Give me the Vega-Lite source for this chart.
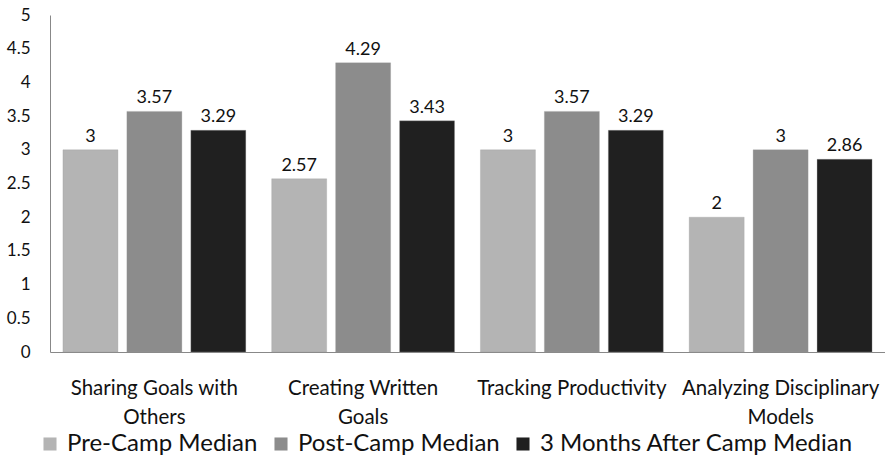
{
  "$schema": "https://vega.github.io/schema/vega-lite/v6.json",
  "autosize": {"type": "none"},
  "width": 835,
  "height": 337,
  "padding": {"left": 50, "top": 15, "right": 0, "bottom": 111},
  "background": "white",
  "config": {
    "view": {"stroke": null},
    "font": "Lato",
    "text": {"font": "Lato"}
  },
  "data": {
    "values": [
      {"category": "Sharing Goals with Others", "series": "Pre-Camp Median", "value": 3},
      {"category": "Sharing Goals with Others", "series": "Post-Camp Median", "value": 3.57},
      {"category": "Sharing Goals with Others", "series": "3 Months After Camp Median", "value": 3.29},
      {"category": "Creating Written Goals", "series": "Pre-Camp Median", "value": 2.57},
      {"category": "Creating Written Goals", "series": "Post-Camp Median", "value": 4.29},
      {"category": "Creating Written Goals", "series": "3 Months After Camp Median", "value": 3.43},
      {"category": "Tracking Productivity", "series": "Pre-Camp Median", "value": 3},
      {"category": "Tracking Productivity", "series": "Post-Camp Median", "value": 3.57},
      {"category": "Tracking Productivity", "series": "3 Months After Camp Median", "value": 3.29},
      {"category": "Analyzing Disciplinary Models", "series": "Pre-Camp Median", "value": 2},
      {"category": "Analyzing Disciplinary Models", "series": "Post-Camp Median", "value": 3},
      {"category": "Analyzing Disciplinary Models", "series": "3 Months After Camp Median", "value": 2.86}
    ]
  },
  "encoding": {
    "x": {
      "field": "category",
      "type": "nominal",
      "sort": null,
      "title": null,
      "scale": {"paddingInner": 0.124, "paddingOuter": 0.062},
      "axis": {
        "labelAngle": 0,
        "labelFontSize": 20.5,
        "labelColor": "#111111",
        "labelFont": "Lato",
        "labelPadding": 26,
        "labelLineHeight": 29,
        "labelLimit": 0,
        "ticks": false,
        "domainColor": "#888888",
        "domainWidth": 1,
        "labelExpr": "datum.label == 'Sharing Goals with Others' ? ['Sharing Goals with', 'Others'] : datum.label == 'Creating Written Goals' ? ['Creating Written', 'Goals'] : datum.label == 'Analyzing Disciplinary Models' ? ['Analyzing Disciplinary', 'Models'] : datum.label"
      }
    },
    "xOffset": {
      "field": "series",
      "type": "nominal",
      "sort": ["Pre-Camp Median", "Post-Camp Median", "3 Months After Camp Median"],
      "scale": {"paddingInner": 0.14, "paddingOuter": 0}
    },
    "y": {
      "field": "value",
      "type": "quantitative",
      "title": null,
      "scale": {"domain": [0, 5]},
      "axis": {
        "values": [0, 0.5, 1, 1.5, 2, 2.5, 3, 3.5, 4, 4.5, 5],
        "format": "~g",
        "grid": false,
        "ticks": false,
        "labelFontSize": 17,
        "labelColor": "#111111",
        "labelPadding": 20,
        "domainColor": "#888888",
        "labelFont": "Lato"
      }
    }
  },
  "layer": [
    {
      "mark": {"type": "bar", "stroke": "#999999", "strokeWidth": 0.5, "strokeOpacity": 0.6},
      "encoding": {
        "color": {
          "field": "series",
          "type": "nominal",
          "sort": ["Pre-Camp Median", "Post-Camp Median", "3 Months After Camp Median"],
          "scale": {
            "domain": ["Pre-Camp Median", "Post-Camp Median", "3 Months After Camp Median"],
            "range": ["#b4b4b4", "#8c8c8c", "#202020"]
          },
          "legend": {
            "title": null,
            "orient": "none",
            "direction": "horizontal",
            "legendX": -12,
            "legendY": 417,
            "symbolType": "square",
            "symbolSize": 170,
            "symbolStrokeWidth": 0,
            "labelFontSize": 24,
            "labelFont": "Lato",
            "labelColor": "#111111",
            "labelOffset": 5,
            "labelLimit": 0,
            "columnPadding": 11
          }
        }
      }
    },
    {
      "mark": {"type": "text", "dy": -13, "fontSize": 18, "color": "#111111", "font": "Lato"},
      "encoding": {
        "text": {"field": "value", "type": "quantitative"}
      }
    }
  ]
}
